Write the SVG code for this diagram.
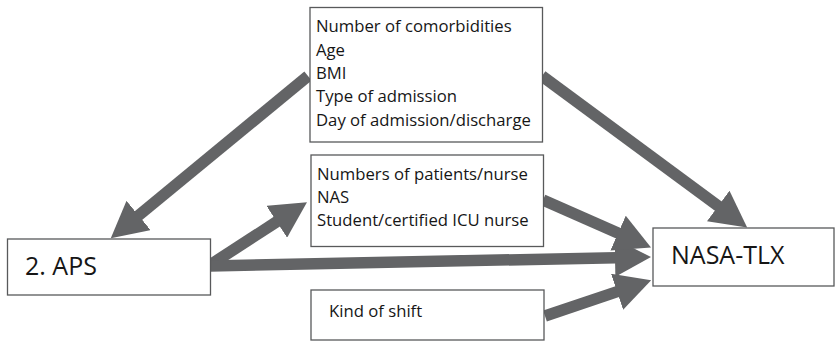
<svg xmlns="http://www.w3.org/2000/svg" width="835" height="341" viewBox="0 0 835 341">
  <style>
    .box { fill: #ffffff; stroke: #58595b; stroke-width: 1.3; }
    .txt { font-family: "Open Sans", "Liberation Sans", sans-serif; font-size: 16.7px; fill: #161616; }
    .big { font-family: "Open Sans", "Liberation Sans", sans-serif; font-size: 25px; fill: #161616; }
    .arrow { stroke: #636466; stroke-width: 11.5; fill: none; marker-end: url(#head); }
  </style>
  <defs>
    <marker id="head" markerUnits="userSpaceOnUse" viewBox="0 0 36 38" refX="1" refY="19" markerWidth="36" markerHeight="38" orient="auto">
      <path d="M0,0 L36,19 L0,38 Z" fill="#636466"/>
    </marker>
  </defs>
  <rect width="835" height="341" fill="#ffffff"/>

  <g id="connectors">
    <!-- patient factors -> 2. APS -->
    <line class="arrow" x1="308" y1="76" x2="137.8" y2="216.1"/>
    <!-- 2. APS -> staffing factors -->
    <line class="arrow" x1="210" y1="265" x2="277.6" y2="221.2"/>
    <!-- 2. APS -> NASA-TLX -->
    <line class="arrow" x1="210" y1="266" x2="616" y2="257.7"/>
    <!-- patient factors -> NASA-TLX -->
    <line class="arrow" x1="542" y1="76" x2="719" y2="206.6"/>
    <!-- staffing factors -> NASA-TLX -->
    <line class="arrow" x1="543" y1="200" x2="619" y2="233.5"/>
    <!-- kind of shift -> NASA-TLX -->
    <line class="arrow" x1="545" y1="316" x2="618" y2="291.4"/>
  </g>

  <g id="patient-factors">
    <rect class="box" x="310" y="7.5" width="232.5" height="134.5"/>
    <text class="txt" x="316" y="32">Number of comorbidities</text>
    <text class="txt" x="316" y="55.5">Age</text>
    <text class="txt" x="316" y="79">BMI</text>
    <text class="txt" x="316" y="102.3">Type of admission</text>
    <text class="txt" x="316" y="125.7">Day of admission/discharge</text>
  </g>

  <g id="staffing-factors">
    <rect class="box" x="311" y="155" width="232.5" height="91.5"/>
    <text class="txt" x="317" y="180">Numbers of patients/nurse</text>
    <text class="txt" x="317" y="203.3">NAS</text>
    <text class="txt" x="317" y="226">Student/certified ICU nurse</text>
  </g>

  <g id="kind-of-shift">
    <rect class="box" x="311" y="290" width="233" height="50"/>
    <text class="txt" x="329" y="316.5">Kind of shift</text>
  </g>

  <g id="aps">
    <rect class="box" x="7.5" y="239" width="203" height="56"/>
    <text class="big" x="25" y="275">2. APS</text>
  </g>

  <g id="nasa-tlx">
    <rect class="box" x="653" y="228" width="181" height="58"/>
    <text class="big" x="671" y="263.5">NASA-TLX</text>
  </g>
</svg>
